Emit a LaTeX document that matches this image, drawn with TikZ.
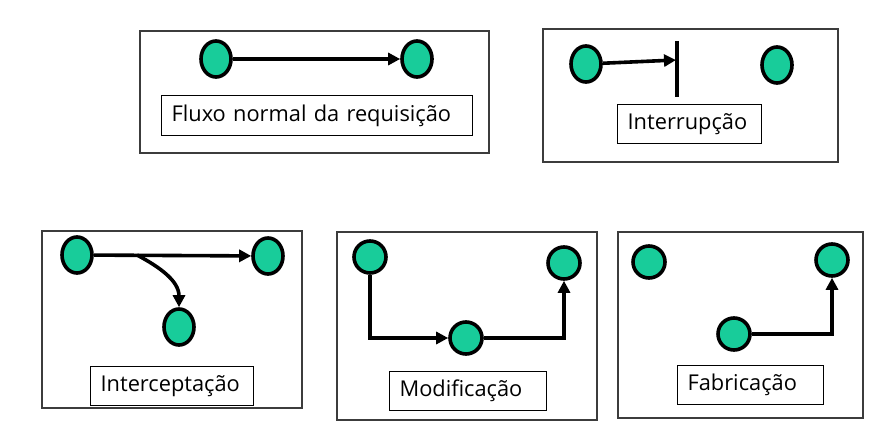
\documentclass[tikz,border=0pt]{standalone}
\usepackage{fontspec}
\setmainfont{Open Sans}
\usetikzlibrary{shapes.geometric,arrows.meta}
\definecolor{nodegreen}{RGB}{24,204,154}
\definecolor{framegray}{RGB}{60,60,60}
\begin{document}
\begin{tikzpicture}[x=0.5pt,y=-0.5pt,
    host/.style={draw=black,line width=1.8pt,fill=nodegreen,ellipse,inner sep=0pt,minimum width=15pt,minimum height=18pt},
    hostc/.style={host,minimum width=16pt,minimum height=16pt},
    arr/.style={line width=1.8pt,-{Triangle[length=6pt,width=6pt]}},
    frame/.style={draw=framegray,line width=0.8pt},
    lbl/.style={draw=black,line width=0.6pt,anchor=north west,inner xsep=5pt,inner ysep=0pt,align=left,font=\fontsize{10.9pt}{12pt}\selectfont}]
    \useasboundingbox (0,0) rectangle (882,444);
    % frames
    \draw[frame] (140,31) rectangle (489,153);
    \draw[frame] (543,29) rectangle (838,162);
    \draw[frame] (42,231) rectangle (302,408);
    \draw[frame] (337,232) rectangle (597,420);
    \draw[frame] (618,232) rectangle (863,418);
    % normal
    \node[host] (a1) at (216,59) {};
    \node[host] (b1) at (417,59) {};
    \draw[arr] (a1) -- (b1);
    \node[lbl,text width=145.5pt,minimum height=20pt] (l1) at (161,95) {Fluxo normal da requisição};
    % interrupcao
    \node[host] (a2) at (586,64) {};
    \node[host] (b2) at (777,65) {};
    \coordinate (bt) at (677,41);
    \coordinate (bb) at (677,97);
    \coordinate (hit) at (676,60);
    \draw[line width=1.8pt] (bt) -- (bb);
    \draw[arr] (a2) -- (hit);
    \node[lbl,text width=62pt,minimum height=19.5pt] (l2) at (617,104) {Interrupção};
    % interceptacao
    \node[host] (a3) at (77,255) {};
    \node[host] (b3) at (268,256) {};
    \node[host] (c3) at (179,327) {};
    \coordinate (br) at (137,255);
    \draw[arr] (a3) -- (b3);
    \draw[arr] (br) to[out=-28,in=90] (c3);
    \node[lbl,text width=71.5pt,minimum height=19.5pt] (l3) at (90,366) {Interceptação};
    % modificacao
    \node[hostc] (a4) at (370,257) {};
    \node[hostc] (b4) at (466,338) {};
    \node[hostc] (c4) at (564,263) {};
    \draw[arr] (a4) |- (b4);
    \draw[arr] (b4) -| (c4);
    \node[lbl,text width=68.5pt,minimum height=19.5pt] (l4) at (389,371) {Modificação};
    % fabricacao
    \node[hostc] (a5) at (649,262) {};
    \node[hostc] (b5) at (734,334) {};
    \node[hostc] (c5) at (832,260) {};
    \draw[arr] (b5) -| (c5);
    \node[lbl,text width=63pt,minimum height=19.5pt] (l5) at (677,365) {Fabricação};
\end{tikzpicture}
\end{document}
